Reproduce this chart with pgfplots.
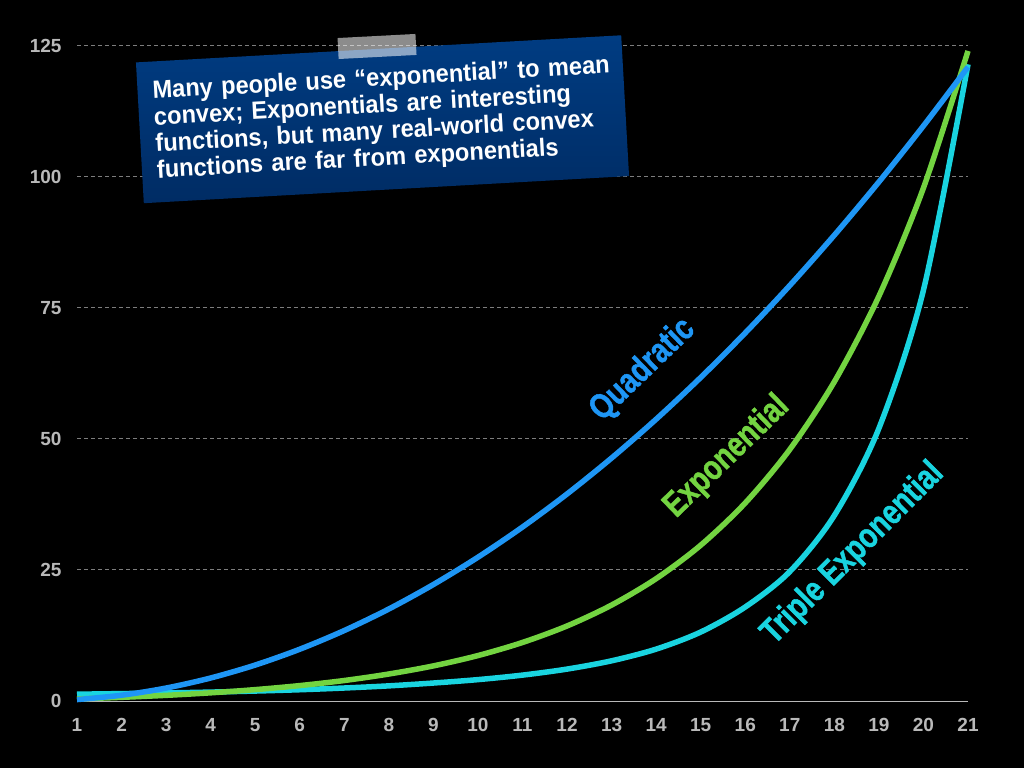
\documentclass[border=0pt]{standalone}
\usepackage{fontspec}
\setmainfont{Liberation Sans}
\newfontfamily\cond[FakeStretch=0.8,FakeBold=1.2]{Liberation Sans}
\newfontfamily\boxf[FakeStretch=0.945]{Liberation Sans}
\usepackage{pgfplots}
\pgfplotsset{compat=1.18}
\usepackage{pgfplotstable}
\definecolor{qblue}{RGB}{30,150,245}
\definecolor{egreen}{RGB}{115,212,65}
\definecolor{tcyan}{RGB}{25,212,224}
\definecolor{boxtop}{RGB}{0,60,130}
\definecolor{boxbot}{RGB}{0,44,100}
\definecolor{tickc}{RGB}{185,185,185}
\definecolor{gridc}{RGB}{125,125,125}

\pgfplotstableread{
x     quad    expo    triple
1     0.27    0.40    1.30
2     1.10    0.70    1.41
3     2.47    1.08    1.54
4     4.39    1.56    1.70
5     6.86    2.17    1.90
6     9.88    2.94    2.15
7     13.45   3.91    2.48
8     17.56   5.15    2.89
9     22.23   6.70    3.43
10    27.44   8.67    4.08
11    33.20   11.17   4.94
12    39.51   14.32   6.09
13    46.37   18.31   7.67
14    53.78   23.35   9.90
15    61.74   29.73   13.16
16    70.25   37.80   17.94
17    79.30   48.01   24.70
18    88.91   60.93   35.41
19    99.06   77.26   52.04
20    109.76  97.92   78.42
21    121.00  124.06  121.50
}\data

\begin{document}
\begin{tikzpicture}[x=1pt,y=1pt]
\fill[black] (0,0) rectangle (1024,768);
\begin{axis}[
  at={(77pt,67pt)}, anchor=south west,
  scale only axis, width=891pt, height=655pt,
  xmin=1, xmax=21, ymin=0, ymax=125,
  clip=false,
  axis x line*=bottom, axis y line*=left,
  x axis line style={draw=tickc, line width=1pt, -},
  y axis line style={draw=none},
  major tick length=0pt,
  xtick={1,2,...,21}, ytick={0,25,...,125},
  ymajorgrids,
  grid style={gridc, line width=1pt, dash pattern=on 3.5pt off 3.5pt},
  /pgf/number format/assume math mode=true,
  tick label style={font=\bfseries\fontsize{19}{19}\selectfont, text=tickc},
  yticklabel style={xshift=-12pt},
  xticklabel style={yshift=-14pt},
]
\addplot[tcyan, line width=5.5pt, smooth, no marks] table[x=x,y=triple]{\data};
\addplot[egreen, line width=5.5pt, smooth, no marks] table[x=x,y=expo]{\data};
\addplot[qblue, line width=5.5pt, smooth, no marks] table[x=x,y=quad]{\data};

\node[rotate=44, text=qblue, font=\cond\bfseries\fontsize{35}{35}\selectfont] at (axis cs:13.70,63.2) {Quadratic};
\node[rotate=44, text=egreen, font=\cond\bfseries\fontsize{35}{35}\selectfont] at (axis cs:15.59,46.6) {Exponential};
\node[rotate=45, text=tcyan, font=\cond\bfseries\fontsize{35}{35}\selectfont] at (axis cs:18.42,28.1) {Triple Exponential};
\end{axis}

\node[rotate=3.2, top color=boxtop, bottom color=boxbot, text=white, inner xsep=15pt, inner ysep=0pt,
      text width=456pt, minimum height=141pt, align=left,
      font=\boxf\bfseries\fontsize{25}{26.5}\selectfont] at (382.5,648.75)
  {\mbox{Many people use “exponential” to mean}\\
   \mbox{convex; Exponentials are interesting}\\
   \mbox{functions, but many real-world convex}\\
   \mbox{functions are far from exponentials}};
\fill[white, opacity=0.55, rotate around={3:(377,722)}] (338,711) rectangle (416,732);
\end{tikzpicture}
\end{document}
